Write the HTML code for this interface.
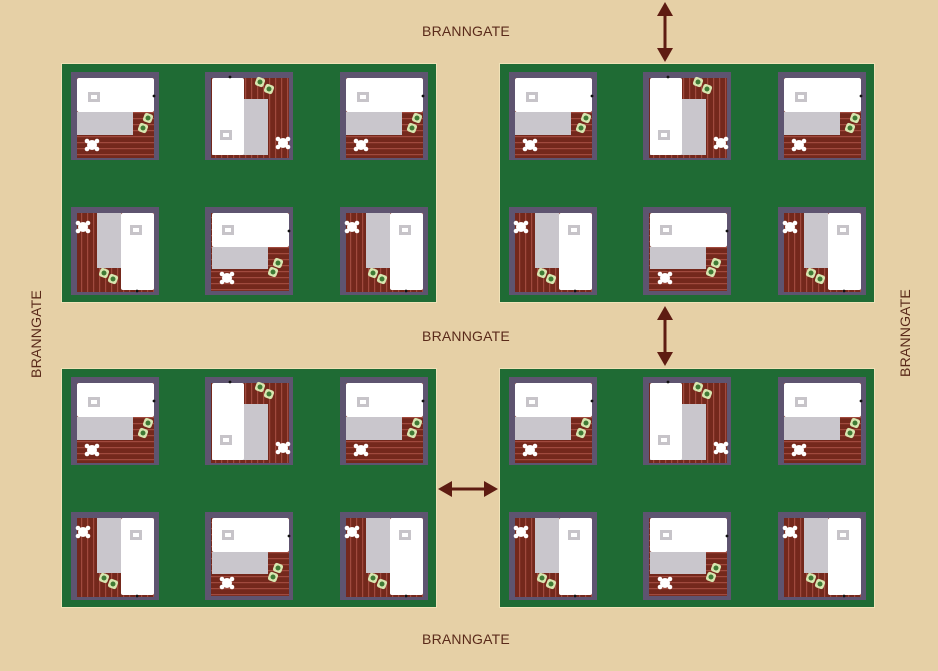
<!DOCTYPE html>
<html><head><meta charset="utf-8"><style>
html,body{margin:0;padding:0;background:#e6d0a6;}
svg{display:block}
text{font-family:"Liberation Sans",sans-serif;font-size:14px;fill:#5a2a1a;letter-spacing:0.2px}
</style></head><body>
<svg width="938" height="671" viewBox="0 0 938 671" xmlns="http://www.w3.org/2000/svg">
<defs>
<pattern id="hs" width="6" height="6" patternUnits="userSpaceOnUse"><rect width="6" height="6" fill="#74281c"/><rect y="4" width="6" height="1.2" fill="#a04a3e"/></pattern>
<pattern id="vs" width="6" height="6" patternUnits="userSpaceOnUse"><rect width="6" height="6" fill="#74281c"/><rect x="4" width="1.2" height="6" fill="#a04a3e"/></pattern>
<g id="tbl"><circle r="5" fill="#fff"/><circle cx="-5" cy="-4" r="2.3" fill="#fff"/><circle cx="5" cy="-4" r="2.3" fill="#fff"/><circle cx="-5" cy="4" r="2.3" fill="#fff"/><circle cx="5" cy="4" r="2.3" fill="#fff"/></g>
<g id="pl"><rect x="-4.5" y="-4.5" width="9" height="9" rx="2.5" fill="#d8e6b0" transform="rotate(20)"/><circle r="2.5" fill="#3f7a35"/></g>
<g id="ic"><rect width="12" height="10" fill="#c7c4c9"/><rect x="3" y="3" width="6" height="4" fill="#fff"/></g>
<g id="A"><rect width="88" height="88" fill="#5e5470"/><rect x="6" y="6" width="77" height="80" fill="url(#hs)"/><rect x="6" y="6" width="77" height="34" fill="#fff" rx="2"/><rect x="6" y="40" width="56" height="23" fill="#c9c6cc"/><use href="#ic" x="17" y="20"/><use href="#tbl" x="21" y="73"/><use href="#pl" x="77" y="46"/><use href="#pl" x="72" y="56"/><circle cx="83" cy="24" r="1.4" fill="#111"/></g>
<g id="B"><rect width="88" height="88" fill="#5e5470"/><rect x="6" y="6" width="78" height="80" fill="url(#vs)"/><rect x="7" y="27" width="56" height="56" fill="#c9c6cc"/><rect x="7" y="6" width="32" height="77" fill="#fff" rx="2"/><use href="#ic" x="15" y="58"/><use href="#pl" x="55" y="10"/><use href="#pl" x="64" y="17"/><use href="#tbl" x="78" y="71"/><circle cx="25" cy="5" r="1.4" fill="#111"/></g>
<g id="C"><rect width="88" height="88" fill="#5e5470"/><rect x="6" y="6" width="77" height="79" fill="url(#vs)"/><rect x="26" y="6" width="24" height="55" fill="#c9c6cc"/><rect x="50" y="6" width="33" height="77" fill="#fff" rx="2"/><use href="#ic" x="59" y="18"/><use href="#tbl" x="12" y="20"/><use href="#pl" x="33" y="66"/><use href="#pl" x="42" y="72"/><circle cx="66" cy="84" r="1.4" fill="#111"/></g>
<g id="D"><rect width="88" height="88" fill="#5e5470"/><rect x="6" y="6" width="78" height="78" fill="url(#hs)"/><rect x="7" y="6" width="77" height="34" fill="#fff" rx="2"/><rect x="7" y="40" width="56" height="22" fill="#c9c6cc"/><use href="#ic" x="17" y="18"/><use href="#tbl" x="22" y="71"/><use href="#pl" x="73" y="56"/><use href="#pl" x="68" y="65"/><circle cx="84" cy="24" r="1.4" fill="#111"/></g>
<g id="blk"><rect x="-1" y="-1" width="376" height="240" fill="#f0e2b8"/><rect width="374" height="238" fill="#1f6b34"/>
<use href="#A" x="9" y="8"/><use href="#B" x="143" y="8"/><use href="#A" x="278" y="8"/>
<use href="#C" x="9" y="143"/><use href="#D" x="143" y="143"/><use href="#C" x="278" y="143"/></g>
<g id="arrV"><line x1="0" y1="8" x2="0" y2="52" stroke="#5e1c12" stroke-width="3"/><polygon points="0,0 -8,14 8,14" fill="#5e1c12"/><polygon points="0,60 -8,46 8,46" fill="#5e1c12"/></g>
</defs>
<use href="#blk" x="62" y="64"/><use href="#blk" x="500" y="64"/>
<use href="#blk" x="62" y="369"/><use href="#blk" x="500" y="369"/>
<use href="#arrV" x="665" y="2"/><use href="#arrV" x="665" y="306"/>
<use href="#arrV" transform="translate(498,489) rotate(90)"/>
<text x="466" y="36" text-anchor="middle">BRANNGATE</text>
<text x="466" y="341" text-anchor="middle">BRANNGATE</text>
<text x="466" y="644" text-anchor="middle">BRANNGATE</text>
<text transform="translate(41,334) rotate(-90)" text-anchor="middle">BRANNGATE</text>
<text transform="translate(910,333) rotate(-90)" text-anchor="middle">BRANNGATE</text>
</svg>
</body></html>
